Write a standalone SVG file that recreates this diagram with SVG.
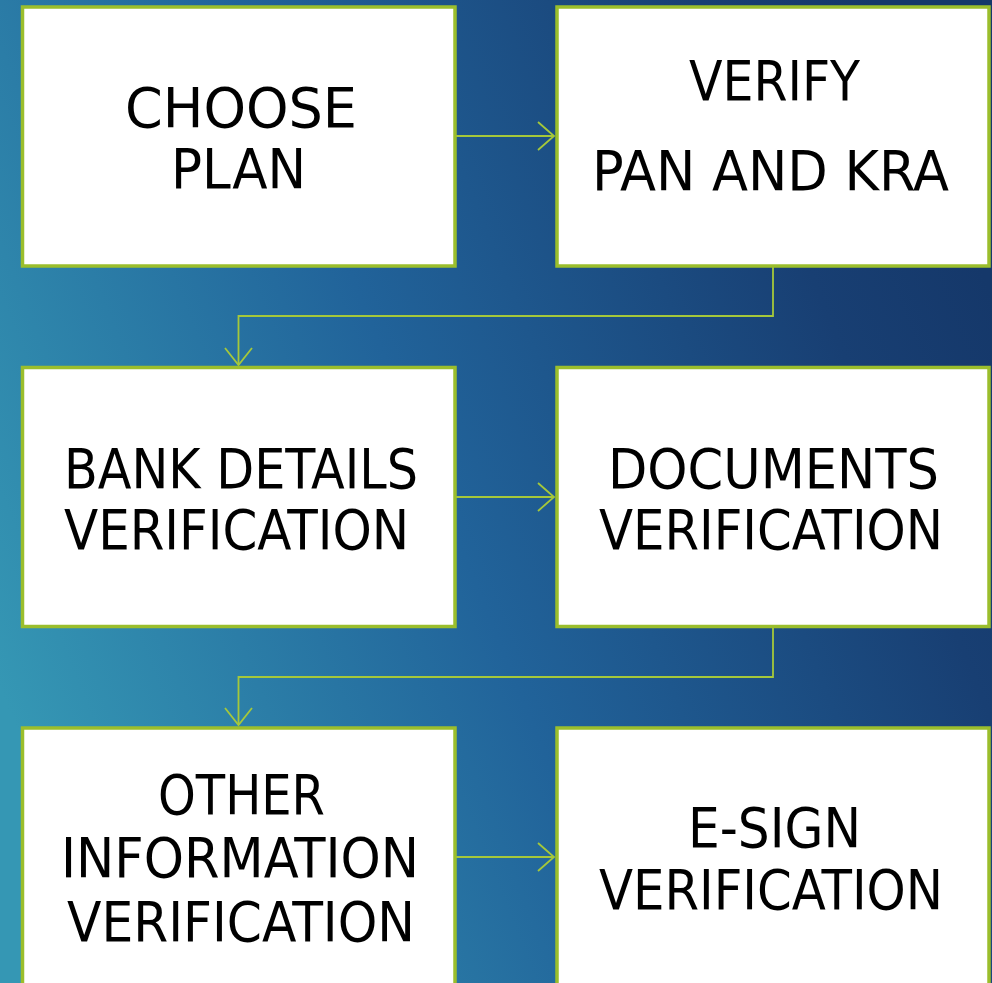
<svg xmlns="http://www.w3.org/2000/svg" width="992" height="983" viewBox="0 0 992 983">
<defs>
<linearGradient id="bg" x1="0" y1="0.7" x2="1" y2="0.3">
<stop offset="0" stop-color="#3597B4"/>
<stop offset="0.45" stop-color="#21639A"/>
<stop offset="0.85" stop-color="#183F73"/>
<stop offset="1" stop-color="#15386A"/>
</linearGradient>
<style>
.box{fill:#FFFFFF;stroke:#9BBE2C;stroke-width:3.5}
.lbl{font-family:"DejaVu Sans Condensed","DejaVu Sans",sans-serif;font-size:56px;fill:#000}
.con{fill:none;stroke:#A5C83A;stroke-width:1.8}
.hd{fill:none;stroke:#A5C83A;stroke-width:1.8}
</style>
</defs>
<rect width="992" height="983" fill="url(#bg)"/>
<g id="connectors">
<path class="con" d="M456,136 H554"/>
<path class="hd" d="M538,122 L554,136 L538,150"/>
<path class="con" d="M773,267 V316 H238.5 V365"/>
<path class="hd" d="M225,348 L238.5,365 L252,348"/>
<path class="con" d="M456,497 H554"/>
<path class="hd" d="M538,483 L554,497 L538,511"/>
<path class="con" d="M773,627 V677 H238.5 V725"/>
<path class="hd" d="M225,708 L238.5,725 L252,708"/>
<path class="con" d="M456,857 H554"/>
<path class="hd" d="M538,843 L554,857 L538,871"/>
</g>
<g id="choose-plan">
<rect class="box" x="22.5" y="7" width="432.5" height="259"/>
<text class="lbl" x="125" y="127" textLength="232" lengthAdjust="spacingAndGlyphs">CHOOSE</text>
<text class="lbl" x="171" y="188" textLength="135" lengthAdjust="spacingAndGlyphs">PLAN</text>
</g>
<g id="verify-pan-kra">
<rect class="box" x="557" y="7" width="432" height="259"/>
<text class="lbl" x="689" y="100" textLength="171" lengthAdjust="spacingAndGlyphs">VERIFY</text>
<text class="lbl" x="592" y="190" textLength="357" lengthAdjust="spacingAndGlyphs">PAN AND KRA</text>
</g>
<g id="bank-details">
<rect class="box" x="22.5" y="367.5" width="432.5" height="259"/>
<text class="lbl" x="64" y="488" textLength="354" lengthAdjust="spacingAndGlyphs">BANK DETAILS</text>
<text class="lbl" x="64" y="549" textLength="345" lengthAdjust="spacingAndGlyphs">VERIFICATION</text>
</g>
<g id="documents">
<rect class="box" x="557" y="367.5" width="432" height="259"/>
<text class="lbl" x="608" y="488" textLength="331" lengthAdjust="spacingAndGlyphs">DOCUMENTS</text>
<text class="lbl" x="599" y="549" textLength="344" lengthAdjust="spacingAndGlyphs">VERIFICATION</text>
</g>
<g id="other-info">
<rect class="box" x="22.5" y="728" width="432.5" height="270"/>
<text class="lbl" x="158" y="814" textLength="167" lengthAdjust="spacingAndGlyphs">OTHER</text>
<text class="lbl" x="61" y="877" textLength="358" lengthAdjust="spacingAndGlyphs">INFORMATION</text>
<text class="lbl" x="67" y="941" textLength="348" lengthAdjust="spacingAndGlyphs">VERIFICATION</text>
</g>
<g id="esign">
<rect class="box" x="557" y="728" width="432" height="270"/>
<text class="lbl" x="688" y="847" textLength="173" lengthAdjust="spacingAndGlyphs">E-SIGN</text>
<text class="lbl" x="599" y="909" textLength="344" lengthAdjust="spacingAndGlyphs">VERIFICATION</text>
</g>
</svg>
